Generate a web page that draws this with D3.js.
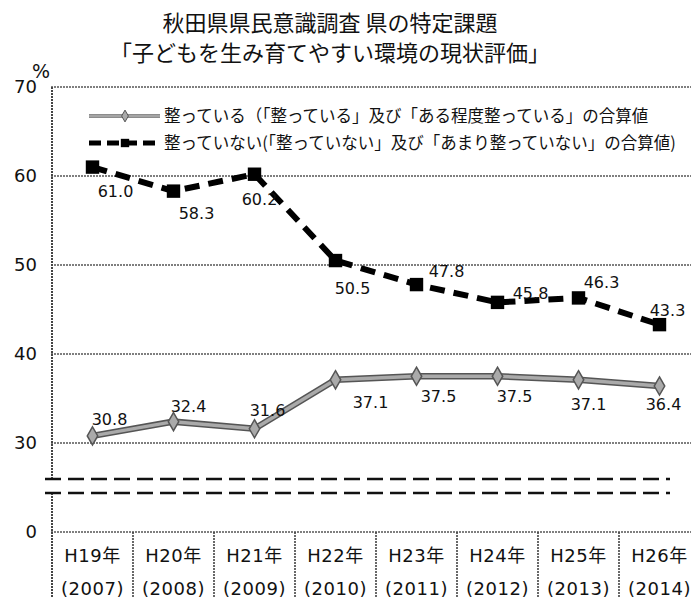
<!DOCTYPE html>
<html>
<head>
<meta charset="utf-8">
<script src="https://cdn.jsdelivr.net/npm/d3@7"></script>
<style>
  body { margin: 0; background: #fff; }
  svg { display: block; }
</style>
</head>
<body>
<svg id="chart" width="691" height="598"></svg>
<script>
// chart data
const titleLines = ["秋田県県民意識調査 県の特定課題", "「子どもを生み育てやすい環境の現状評価」"]
const eraYears = ["H19年", "H20年", "H21年", "H22年", "H23年", "H24年", "H25年", "H26年"]
const westernYears = ["(2007)", "(2008)", "(2009)", "(2010)", "(2011)", "(2012)", "(2013)", "(2014)"]
const seriesNames = [
    "整っている（「整っている」及び「ある程度整っている」の合算値",
    "整っていない(「整っていない」及び「あまり整っていない」の合算値)"
]
const goodValues = [30.8, 32.4, 31.6, 37.1, 37.5, 37.5, 37.1, 36.4]
const badValues = [61.0, 58.3, 60.2, 50.5, 47.8, 45.8, 46.3, 43.3]
const yTicks = [0, 30, 40, 50, 60, 70]

// label nudges (layout only)
const goodLabelShift = [[17, -17], [15, -15], [13, -19], [35, 22], [22, 20], [17, 20], [10, 24], [4, 18]]
const badLabelShift = [[23, 24], [23, 22], [5, 25], [17, 28], [30, -13], [33, -9], [23, -16], [8, -14]]

const svg = d3.select("#chart")
const margin = {left: 52, right: -9, top: 87, bottom: 532}

const x = d3.scaleBand().domain(eraYears).range([margin.left, 691 - margin.right]).padding(0)
// broken axis: 0..30 squeezed, 30..70 normal
const y = d3.scaleLinear().domain([0, 30, 70]).range([532, 443, 87])
const cx = i => x(eraYears[i]) + x.bandwidth() / 2

// title
svg.selectAll("text.title").data(titleLines).join("text")
    .attr("class", "title")
    .attr("x", 330)
    .attr("y", (d, i) => 31 + i * 30)
    .attr("text-anchor", "middle")
    .style("font-family", "'Noto Sans CJK JP'")
    .style("font-size", "22px")
    .style("fill", "#111")
    .text(d => d)

// gridlines (not 0)
svg.append("g").selectAll("line").data(yTicks.filter(d => d > 0)).join("line")
    .attr("x1", margin.left - 1).attr("x2", 691)
    .attr("y1", d => y(d)).attr("y2", d => y(d))
    .style("stroke", "#555").style("stroke-width", 1.6).style("stroke-dasharray", "2,1")

// zero line / category box top
svg.append("line")
    .attr("x1", margin.left - 1).attr("x2", 691)
    .attr("y1", y(0)).attr("y2", y(0))
    .style("stroke", "#555").style("stroke-width", 1.6).style("stroke-dasharray", "2,1")

// vertical axis with break gap
const breakTop = 479, breakBottom = 493
svg.append("line").attr("x1", margin.left).attr("x2", margin.left)
    .attr("y1", y(70)).attr("y2", breakTop)
    .style("stroke", "#444").style("stroke-width", 2).style("stroke-dasharray", "2,1")
svg.append("line").attr("x1", margin.left).attr("x2", margin.left)
    .attr("y1", breakBottom).attr("y2", 598)
    .style("stroke", "#444").style("stroke-width", 2).style("stroke-dasharray", "2,1")

// break marks
svg.append("g").selectAll("line").data([breakTop, breakBottom]).join("line")
    .attr("x1", 45).attr("x2", 670)
    .attr("y1", d => d).attr("y2", d => d)
    .style("stroke", "#111").style("stroke-width", 2.5).style("stroke-dasharray", "16,7")

// category box dividers
svg.append("g").selectAll("line").data(eraYears.slice(1)).join("line")
    .attr("x1", d => x(d)).attr("x2", d => x(d))
    .attr("y1", y(0)).attr("y2", 598)
    .style("stroke", "#444").style("stroke-width", 1.6).style("stroke-dasharray", "2,1")

// category labels
const catFont = "'DejaVu Sans', 'Noto Sans CJK JP'"
svg.append("g").selectAll("text").data(eraYears).join("text")
    .attr("x", d => x(d) + x.bandwidth() / 2)
    .attr("y", 562)
    .attr("text-anchor", "middle")
    .style("font-family", catFont).style("font-size", "18px").style("letter-spacing", "0.5px")
    .style("fill", "#111")
    .text(d => d)
svg.append("g").selectAll("text").data(westernYears).join("text")
    .attr("x", (d, i) => cx(i))
    .attr("y", 595)
    .attr("text-anchor", "middle")
    .style("font-family", catFont).style("font-size", "18px").style("letter-spacing", "0.5px")
    .style("fill", "#111")
    .text(d => d)

// y tick labels
svg.append("g").selectAll("text").data(yTicks).join("text")
    .attr("x", 37)
    .attr("y", d => y(d))
    .attr("dy", "0.36em")
    .attr("text-anchor", "end")
    .style("font-family", "'DejaVu Sans'").style("font-size", "18px")
    .style("fill", "#111")
    .text(d => d)
svg.append("text")
    .attr("x", 41).attr("y", 78)
    .attr("text-anchor", "middle")
    .style("font-family", "'DejaVu Sans'").style("font-size", "19px")
    .style("fill", "#111")
    .text("%")

// series lines
const line = d3.line().x((d, i) => cx(i)).y(d => y(d))

svg.append("path").datum(goodValues).attr("d", line)
    .style("fill", "none").style("stroke", "#555").style("stroke-width", 6.5)
svg.append("path").datum(goodValues).attr("d", line)
    .style("fill", "none").style("stroke", "#aaa").style("stroke-width", 3.5)

svg.append("path").datum(badValues).attr("d", line)
    .style("fill", "none").style("stroke", "#000").style("stroke-width", 6)
    .style("stroke-dasharray", "15,9")

// markers
const diamond = d3.symbol(d3.symbolDiamond, 95)
const square = d3.symbol(d3.symbolSquare, 180)

svg.append("g").selectAll("path").data(goodValues).join("path")
    .attr("d", diamond)
    .attr("transform", (d, i) => `translate(${cx(i)}, ${y(d)})`)
    .style("fill", "#aaa").style("stroke", "#555").style("stroke-width", 1.5)

svg.append("g").selectAll("path").data(badValues).join("path")
    .attr("d", square)
    .attr("transform", (d, i) => `translate(${cx(i)}, ${y(d)})`)
    .style("fill", "#000")

// value labels
const valueFont = "'DejaVu Sans'"
svg.append("g").selectAll("text").data(goodValues).join("text")
    .attr("x", (d, i) => cx(i) + goodLabelShift[i][0])
    .attr("y", (d, i) => y(d) + goodLabelShift[i][1])
    .attr("dy", "0.36em")
    .attr("text-anchor", "middle")
    .style("font-family", valueFont).style("font-size", "16px")
    .style("fill", "#111")
    .text(d => d.toFixed(1))

svg.append("g").selectAll("text").data(badValues).join("text")
    .attr("x", (d, i) => cx(i) + badLabelShift[i][0])
    .attr("y", (d, i) => y(d) + badLabelShift[i][1])
    .attr("dy", "0.36em")
    .attr("text-anchor", "middle")
    .style("font-family", valueFont).style("font-size", "16px")
    .style("fill", "#111")
    .text(d => d.toFixed(1))

// legend
const legend = svg.append("g")
const legendY = [116, 143]

legend.append("line").attr("x1", 89).attr("x2", 160).attr("y1", legendY[0]).attr("y2", legendY[0])
    .style("stroke", "#666").style("stroke-width", 3.5)
legend.append("line").attr("x1", 89).attr("x2", 160).attr("y1", legendY[0]).attr("y2", legendY[0])
    .style("stroke", "#bbb").style("stroke-width", 1.5)
legend.append("path").attr("d", d3.symbol(d3.symbolDiamond, 40))
    .attr("transform", `translate(125, ${legendY[0]})`)
    .style("fill", "#aaa").style("stroke", "#555").style("stroke-width", 1)

legend.append("line").attr("x1", 89).attr("x2", 160).attr("y1", legendY[1]).attr("y2", legendY[1])
    .style("stroke", "#000").style("stroke-width", 5)
    .style("stroke-dasharray", "12,6")
legend.append("path").attr("d", d3.symbol(d3.symbolSquare, 70))
    .attr("transform", `translate(125, ${legendY[1]})`)
    .style("fill", "#000")

legend.selectAll("text").data(seriesNames).join("text")
    .attr("x", 164)
    .attr("y", (d, i) => legendY[i])
    .attr("dy", "0.36em")
    .style("font-family", "'Noto Sans CJK JP'").style("font-size", "16.5px")
    .style("fill", "#111")
    .text(d => d)
</script>
</body>
</html>
